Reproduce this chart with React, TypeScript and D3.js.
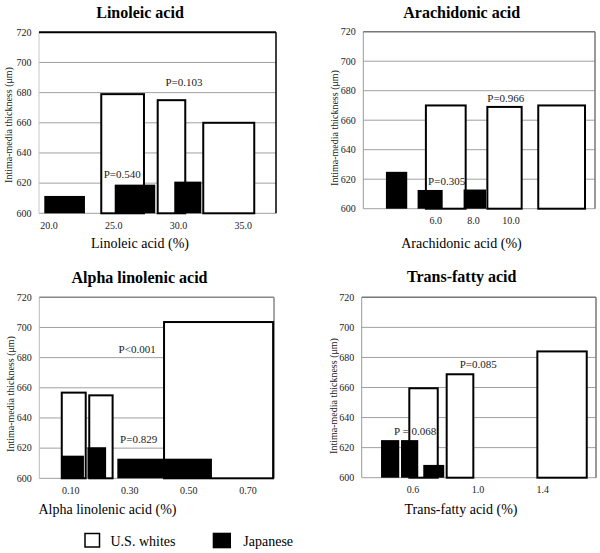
import React from "react";
import * as d3 from "d3";

// ---------- data ----------
const yTicks = [600, 620, 640, 660, 680, 700, 720];
const yDomain = [600, 720];

// Linoleic acid
const linoleicDomain = [19.22, 37.53];
const linoleicTicks = [20, 25, 30, 35];
const linoleicWhites = [
  { x0: 24.03, x1: 27.33, v: 679 },
  { x0: 28.39, x1: 30.52, v: 675 },
  { x0: 31.91, x1: 35.85, v: 660 },
];
const linoleicJapanese = [
  { x0: 19.63, x1: 22.77, v: 611.5 },
  { x0: 25.07, x1: 28.2, v: 619 },
  { x0: 29.67, x1: 31.76, v: 621 },
];
const linoleicP = [
  { label: "P=0.103", x: 30.42, v: 684.4 },
  { label: "P=0.540", x: 25.65, v: 623.4 },
];

// Arachidonic acid
const arachidonicDomain = [2.16, 14.45];
const arachidonicTicks = [6, 8, 10];
const arachidonicWhites = [
  { x0: 5.48, x1: 7.59, v: 670 },
  { x0: 8.74, x1: 10.56, v: 669 },
  { x0: 11.44, x1: 13.92, v: 670 },
];
const arachidonicJapanese = [
  { x0: 3.36, x1: 4.49, v: 625 },
  { x0: 5.04, x1: 6.37, v: 612.7 },
  { x0: 7.48, x1: 8.67, v: 613 },
];
const arachidonicP = [
  { label: "P=0.305", x: 6.58, v: 616.1 },
  { label: "P=0.966", x: 9.72, v: 672.5 },
];

// Alpha linolenic acid
const alphaDomain = [-0.006, 0.788];
const alphaTicks = [0.1, 0.3, 0.5, 0.7];
const alphaWhites = [
  { x0: 0.07, x1: 0.151, v: 656.8 },
  { x0: 0.163, x1: 0.242, v: 655 },
  { x0: 0.416, x1: 0.785, v: 703.6 },
];
const alphaJapanese = [
  { x0: 0.07, x1: 0.145, v: 615 },
  { x0: 0.157, x1: 0.22, v: 620.6 },
  { x0: 0.258, x1: 0.578, v: 613 },
];
const alphaP = [
  { label: "P<0.001", x: 0.325, v: 683.3 },
  { label: "P=0.829", x: 0.33, v: 623.6 },
];

// Trans-fatty acid
const transDomain = [0.285, 1.727];
const transTicks = [0.6, 1.0, 1.4];
const transWhites = [
  { x0: 0.578, x1: 0.753, v: 659.5 },
  { x0: 0.808, x1: 0.972, v: 668.8 },
  { x0: 1.366, x1: 1.67, v: 684 },
];
const transJapanese = [
  { x0: 0.404, x1: 0.516, v: 625 },
  { x0: 0.527, x1: 0.633, v: 625 },
  { x0: 0.664, x1: 0.793, v: 608.5 },
];
const transP = [
  { label: "P = 0.068", x: 0.614, v: 628.4 },
  { label: "P=0.085", x: 1.002, v: 672.8 },
];

const yAxisLabel = "Intima-media thickness (\u03bcm)";
const legendLabels = ["U.S. whites", "Japanese"];

// ---------- layout ----------
const FONT = "\"Liberation Serif\", \"DejaVu Serif\", serif";
const txt = (size: number, weight: string = "normal") => ({ fontFamily: FONT, fontSize: size + "px", fontWeight: weight });

const panels = [
  {
    title: "Linoleic acid",
    xLabel: "Linoleic acid (%)",
    domain: linoleicDomain,
    ticks: linoleicTicks,
    fmt: d3.format(".1f"),
    whites: linoleicWhites,
    japanese: linoleicJapanese,
    pvals: linoleicP,
    L: { left: 39, right: 276, top: 32.3, bottom: 213.3, titleX: 140, titleY: 17.5, xLabelX: 140, xLabelY: 248, yLabelX: 12, yLabelY: 125, frame: "#000", frameTopW: 2, leftAxis: "#c8c8c8" },
  },
  {
    title: "Arachidonic acid",
    xLabel: "Arachidonic acid (%)",
    domain: arachidonicDomain,
    ticks: arachidonicTicks,
    fmt: d3.format(".1f"),
    whites: arachidonicWhites,
    japanese: arachidonicJapanese,
    pvals: arachidonicP,
    L: { left: 363.3, right: 595, top: 31.7, bottom: 208.7, titleX: 461.7, titleY: 17.5, xLabelX: 461.5, xLabelY: 248, yLabelX: 338, yLabelY: 128, frame: "#777", frameTopW: 1.5, leftAxis: "#999" },
  },
  {
    title: "Alpha linolenic acid",
    xLabel: "Alpha linolenic acid (%)",
    domain: alphaDomain,
    ticks: alphaTicks,
    fmt: d3.format(".2f"),
    whites: alphaWhites,
    japanese: alphaJapanese,
    pvals: alphaP,
    L: { left: 39.3, right: 274, top: 297.3, bottom: 478.3, titleX: 139.5, titleY: 282.7, xLabelX: 107.5, xLabelY: 514, yLabelX: 13.5, yLabelY: 394, frame: "#888", frameTopW: 1.5, leftAxis: "#bbb" },
  },
  {
    title: "Trans-fatty acid",
    xLabel: "Trans-fatty acid (%)",
    domain: transDomain,
    ticks: transTicks,
    fmt: d3.format(".1f"),
    whites: transWhites,
    japanese: transJapanese,
    pvals: transP,
    L: { left: 361.7, right: 596, top: 297.3, bottom: 477.7, titleX: 461.7, titleY: 282.3, xLabelX: 461, xLabelY: 514, yLabelX: 337, yLabelY: 396, frame: "#777", frameTopW: 1.5, leftAxis: "#999" },
  },
];

function Panel({ p }: { p: any }) {
  const L = p.L;
  const x = d3.scaleLinear().domain(p.domain).range([L.left, L.right]);
  const y = d3.scaleLinear().domain(yDomain).range([L.bottom, L.top]);
  return (
    <g>
      {yTicks.slice(1, -1).map((t) => (
        <line key={"g" + t} x1={L.left} x2={L.right} y1={y(t)} y2={y(t)} stroke="#a0a0a0" strokeWidth={1} />
      ))}
      <line x1={L.left} x2={L.right} y1={y(600)} y2={y(600)} stroke="#a0a0a0" strokeWidth={1} />
      <line x1={L.left} x2={L.left} y1={y(720)} y2={y(600)} stroke={L.leftAxis} strokeWidth={1} />
      <line x1={L.left} x2={L.right} y1={y(720)} y2={y(720)} stroke={L.frame} strokeWidth={L.frameTopW} />
      <line x1={L.right} x2={L.right} y1={y(720)} y2={y(600)} stroke={L.frame} strokeWidth={1.5} />
      {p.whites.map((d: any, i: number) => (
        <rect key={"w" + i} x={x(d.x0)} y={y(d.v)} width={x(d.x1) - x(d.x0)} height={y(600) - y(d.v)} fill="#fff" stroke="#000" strokeWidth={2} />
      ))}
      {p.japanese.map((d: any, i: number) => (
        <rect key={"j" + i} x={x(d.x0)} y={y(d.v)} width={x(d.x1) - x(d.x0)} height={y(600) - y(d.v)} fill="#000" />
      ))}
      {p.pvals.map((d: any, i: number) => (
        <text key={"p" + i} x={x(d.x)} y={y(d.v)} textAnchor="middle" style={txt(11)} fill="#222">
          {d.label}
        </text>
      ))}
      {yTicks.map((t) => (
        <text key={"yt" + t} x={L.left - 7.5} y={y(t)} dy="0.33em" textAnchor="end" style={txt(10)} fill="#222">
          {t}
        </text>
      ))}
      {p.ticks.map((t: number) => (
        <text key={"xt" + t} x={x(t)} y={y(600) + 15.5} textAnchor="middle" style={txt(10)} fill="#222">
          {p.fmt(t)}
        </text>
      ))}
      <text x={L.titleX} y={L.titleY} textAnchor="middle" style={txt(16, "bold")} fill="#000">
        {p.title}
      </text>
      <text x={L.xLabelX} y={L.xLabelY} textAnchor="middle" style={txt(14)} fill="#000">
        {p.xLabel}
      </text>
      <text transform={`translate(${L.yLabelX},${L.yLabelY}) rotate(-90)`} textAnchor="middle" style={txt(10)} fill="#222">
        {yAxisLabel}
      </text>
    </g>
  );
}

export default function App() {
  return (
    <svg width={600} height={553} style={{ position: "absolute", left: 0, top: 0, background: "#fff" }}>
      <rect x={0} y={0} width={600} height={553} fill="#fff" />
      {panels.map((p, i) => (
        <Panel key={i} p={p} />
      ))}
      <rect x={85} y={533.5} width={14.5} height={13.5} fill="#fff" stroke="#000" strokeWidth={1.5} />
      <text x={110.5} y={545.5} style={txt(14)} fill="#000">{legendLabels[0]}</text>
      <rect x={212.7} y={532.7} width={18.3} height={15.6} fill="#000" />
      <text x={243.3} y={545.5} style={txt(14)} fill="#000">{legendLabels[1]}</text>
    </svg>
  );
}
